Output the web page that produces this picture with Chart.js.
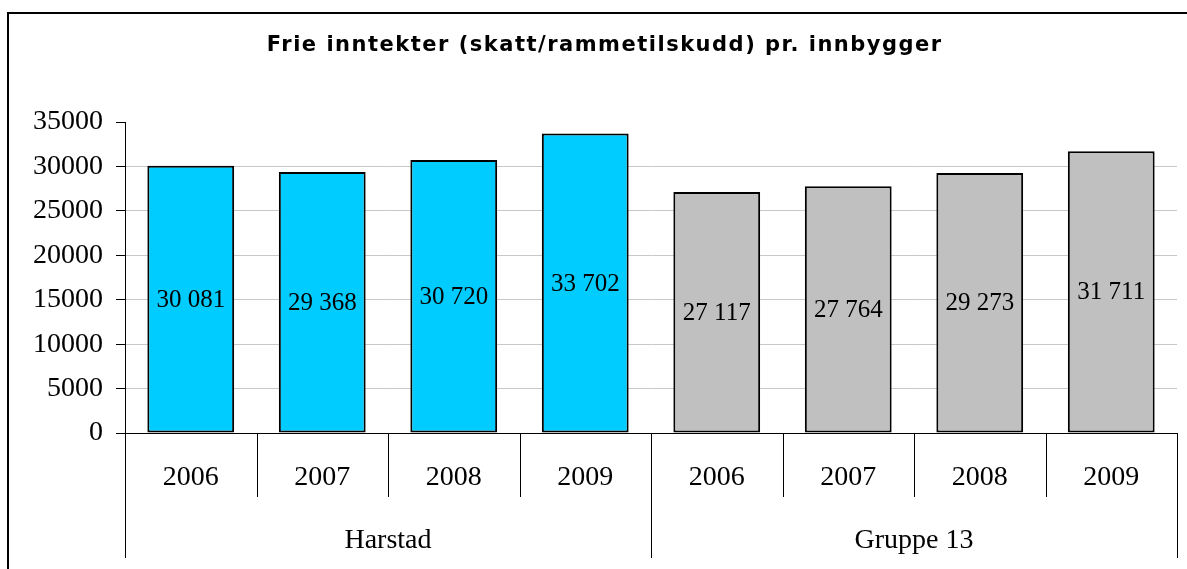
<!DOCTYPE html>
<html>
<head>
<meta charset="utf-8">
<script src="https://cdn.jsdelivr.net/npm/chart.js@4.4.0/dist/chart.umd.min.js"></script>
<style>
html,body{margin:0;padding:0;background:#fff;}
#wrap{position:relative;width:1187px;height:569px;}
</style>
</head>
<body>
<div id="wrap"><canvas id="c" width="1187" height="569"></canvas></div>
<script>
const title = "Frie inntekter (skatt/rammetilskudd) pr. innbygger";
const years = ["2006", "2007", "2008", "2009", "2006", "2007", "2008", "2009"];
const groups = ["Harstad", "Gruppe 13"];
const groupSizes = [4, 4];
const harstadValues = [30081, 29368, 30720, 33702];
const gruppe13Values = [27117, 27764, 29273, 31711];
const yTicks = [0, 5000, 10000, 15000, 20000, 25000, 30000, 35000];

const values = harstadValues.concat(gruppe13Values);
const colors = harstadValues.map(() => "#00CCFF").concat(gruppe13Values.map(() => "#C0C0C0"));
const labels = years.map((y, i) => i < groupSizes[0] ? groups[0] + " " + y : groups[1] + " " + y);

const SERIF = "'Liberation Serif', 'Times New Roman', serif";

function fmt(v) {
  const s = String(v);
  return s.replace(/\B(?=(\d{3})+(?!\d))/g, " ");
}

const decor = {
  id: "decor",
  beforeDraw(chart) {
    const ctx = chart.ctx;
    ctx.save();
    ctx.fillStyle = "#fff";
    ctx.fillRect(0, 0, chart.width, chart.height);
    ctx.strokeStyle = "#000";
    ctx.lineWidth = 2;
    ctx.beginPath();
    ctx.moveTo(8, chart.height + 2);
    ctx.lineTo(8, 13);
    ctx.lineTo(chart.width + 2, 13);
    ctx.stroke();
    ctx.fillStyle = "#000";
    ctx.font = "bold 21px 'DejaVu Sans', Verdana, sans-serif";
    ctx.textAlign = "center";
    ctx.textBaseline = "middle";
    const ls = 1.5;
    if ("letterSpacing" in ctx) ctx.letterSpacing = ls + "px";
    ctx.fillText(title, 604 + ls / 2, 46);
    ctx.restore();
  },
  afterDraw(chart) {
    const ctx = chart.ctx;
    const xs = chart.scales.x;
    const area = chart.chartArea;
    const bottom = area.bottom;
    ctx.save();
    ctx.strokeStyle = "#000";
    ctx.lineWidth = 1;
    const n = years.length;
    const half = (xs.getPixelForValue(1) - xs.getPixelForValue(0)) / 2;
    const edges = [];
    for (let i = 0; i <= n; i++) {
      const px = i < n ? xs.getPixelForValue(i) - half : xs.getPixelForValue(n - 1) + half;
      edges.push(px);
    }
    let groupEdgeIdx = [0];
    let acc = 0;
    groupSizes.forEach(s => { acc += s; groupEdgeIdx.push(acc); });
    edges.forEach((px, i) => {
      const isGroupEdge = groupEdgeIdx.includes(i);
      const x = Math.round(px) + 0.5;
      ctx.beginPath();
      ctx.moveTo(x, bottom);
      ctx.lineTo(x, bottom + (isGroupEdge ? 125 : 64));
      ctx.stroke();
    });
    ctx.fillStyle = "#000";
    ctx.font = "28px " + SERIF;
    ctx.textAlign = "center";
    ctx.textBaseline = "middle";
    years.forEach((y, i) => {
      ctx.fillText(y, xs.getPixelForValue(i), bottom + 45);
    });
    let start = 0;
    groups.forEach((g, gi) => {
      const a = edges[start], b = edges[start + groupSizes[gi]];
      ctx.fillText(g, (a + b) / 2, bottom + 108);
      start += groupSizes[gi];
    });
    ctx.font = "25px " + SERIF;
    const meta = chart.getDatasetMeta(0);
    meta.data.forEach((bar, i) => {
      const cy = (bar.y + bar.base) / 2;
      ctx.fillText(fmt(values[i]), bar.x, cy + 1);
    });
    ctx.restore();
  }
};

new Chart(document.getElementById("c"), {
  type: "bar",
  data: {
    labels: labels,
    datasets: [{
      data: values,
      backgroundColor: colors,
      borderColor: "#000",
      borderWidth: 2,
      borderSkipped: false,
      barPercentage: 0.66,
      categoryPercentage: 1.0
    }]
  },
  options: {
    responsive: false,
    animation: false,
    devicePixelRatio: 1,
    layout: { padding: { top: 122, right: 10, left: 0, bottom: 0 } },
    plugins: { legend: { display: false }, tooltip: { enabled: false }, title: { display: false } },
    scales: {
      x: {
        afterFit(s) { s.height = 569 - 433; },
        grid: { display: false, drawTicks: false },
        border: { display: true, color: "#000", width: 1 },
        ticks: { display: false }
      },
      y: {
        min: 0, max: 35000,
        afterFit(s) { s.width = 125; },
        afterBuildTicks(s) { s.ticks = yTicks.map(v => ({ value: v })); },
        grid: {
          color: ctx => (ctx.tick && (ctx.tick.value === 35000 || ctx.tick.value === 0)) ? "rgba(0,0,0,0)" : "#C8C8C8",
          tickColor: "#000",
          tickLength: 9,
          lineWidth: 1
        },
        border: { display: true, color: "#000", width: 1 },
        ticks: {
          color: "#000",
          font: { family: SERIF, size: 28 },
          padding: 13,
          callback: v => String(v)
        }
      }
    }
  },
  plugins: [decor]
});
</script>
</body>
</html>
